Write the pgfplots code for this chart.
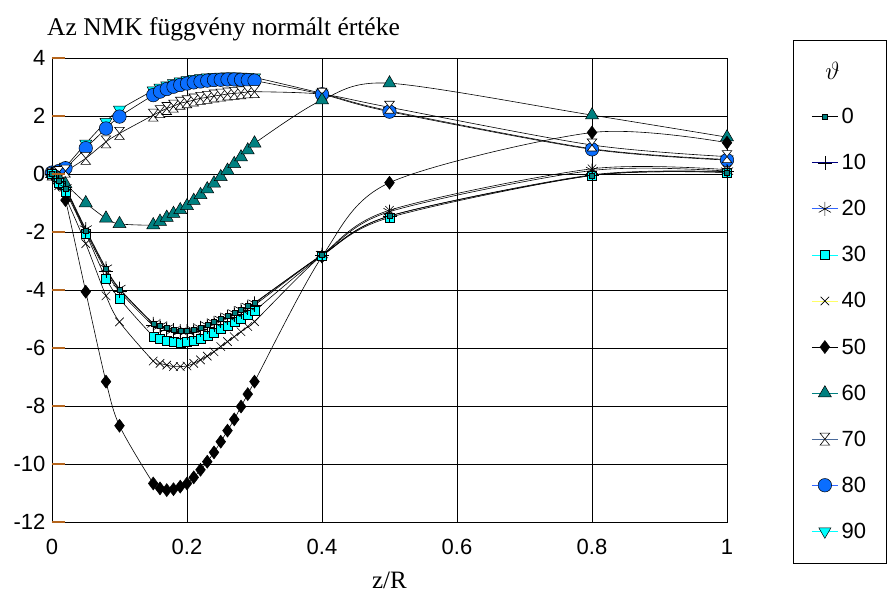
\documentclass[border=0pt]{standalone}
\usepackage{fontspec}
\setmainfont{Liberation Serif}
\setsansfont{Liberation Sans}
\usepackage{pgfplots}
\usepackage{pgfplotstable}
\pgfplotsset{compat=1.18}

\definecolor{tealx}{HTML}{008080}
\definecolor{cyanx}{HTML}{00FFFF}
\definecolor{bluec}{HTML}{0A6EFF}
\definecolor{tickbrown}{HTML}{B5651D}
\definecolor{navyx}{HTML}{000080}
\definecolor{bluel}{HTML}{3366FF}
\definecolor{yellowx}{HTML}{FFFF66}
\definecolor{slatex}{HTML}{4A6A9A}

\pgfdeclareplotmark{hourglass}{%
 \pgfpathmoveto{\pgfqpoint{-0.8\pgfplotmarksize}{\pgfplotmarksize}}%
 \pgfpathlineto{\pgfqpoint{0.8\pgfplotmarksize}{\pgfplotmarksize}}%
 \pgfpathlineto{\pgfqpoint{-0.8\pgfplotmarksize}{-\pgfplotmarksize}}%
 \pgfpathlineto{\pgfqpoint{0.8\pgfplotmarksize}{-\pgfplotmarksize}}%
 \pgfpathclose
 \pgfusepathqfillstroke}

\pgfplotstableread{
x s0 s10 s20 s30 s40 s50 s60 s70 s80 s90
0 0 0 0 0 0 0 0 0 0.05 0.05
0.01 -0.25 -0.25 -0.22 -0.3 -0.4 -0.35 -0.15 0.05 0.1 0.12
0.02 -0.5 -0.52 -0.48 -0.6 -0.8 -0.9 -0.35 0.1 0.2 0.25
0.05 -1.95 -2.0 -1.9 -2.05 -2.4 -4.06 -1.0 0.54 0.89 1.05
0.08 -3.28 -3.35 -3.25 -3.6 -4.2 -7.16 -1.53 1.11 1.57 1.8
0.1 -3.98 -4.05 -3.95 -4.3 -5.1 -8.68 -1.72 1.4 1.98 2.22
0.15 -5.15 -5.23 -5.17 -5.6 -6.45 -10.67 -1.76 2.03 2.72 2.88
0.16 -5.22 -5.3 -5.24 -5.68 -6.53 -10.84 -1.64 2.15 2.84 2.98
0.17 -5.3 -5.38 -5.32 -5.75 -6.59 -10.9 -1.5 2.26 2.93 3.06
0.18 -5.36 -5.44 -5.38 -5.8 -6.64 -10.87 -1.37 2.34 3.01 3.13
0.19 -5.4 -5.48 -5.42 -5.82 -6.64 -10.78 -1.24 2.44 3.07 3.19
0.2 -5.4 -5.48 -5.42 -5.8 -6.62 -10.67 -1.1 2.49 3.12 3.24
0.21 -5.36 -5.44 -5.38 -5.75 -6.53 -10.46 -0.92 2.55 3.16 3.28
0.22 -5.29 -5.37 -5.31 -5.68 -6.41 -10.2 -0.72 2.61 3.19 3.31
0.23 -5.2 -5.28 -5.22 -5.58 -6.28 -9.92 -0.52 2.64 3.22 3.33
0.24 -5.11 -5.19 -5.13 -5.47 -6.13 -9.6 -0.32 2.69 3.24 3.35
0.25 -5.0 -5.08 -5.02 -5.35 -5.95 -9.23 -0.1 2.72 3.25 3.36
0.26 -4.9 -4.98 -4.92 -5.23 -5.78 -8.85 0.12 2.76 3.26 3.37
0.27 -4.78 -4.86 -4.8 -5.1 -5.61 -8.46 0.35 2.78 3.26 3.37
0.28 -4.67 -4.75 -4.69 -4.98 -5.44 -8.02 0.58 2.8 3.25 3.36
0.29 -4.55 -4.63 -4.57 -4.85 -5.26 -7.59 0.82 2.83 3.24 3.35
0.3 -4.44 -4.52 -4.46 -4.72 -5.09 -7.16 1.06 2.84 3.22 3.33
0.4 -2.8 -2.8 -2.78 -2.82 -2.8 -2.85 2.55 2.75 2.75 2.78
0.5 -1.45 -1.45 -1.3 -1.5 -1.25 -0.3 3.13 2.3 2.15 2.18
0.8 -0.05 -0.03 0.12 -0.05 0.18 1.43 2.03 1.0 0.85 0.87
1 0.06 0.08 0.1 0.05 0.15 1.08 1.27 0.6 0.48 0.5
}\data

\begin{document}
\begin{tikzpicture}
\path[use as bounding box] (-52pt,-70pt) rectangle (839pt,522pt);
\begin{axis}[
  at={(0,0)}, anchor=south west,
  scale only axis, width=675pt, height=464pt,
  xmin=0, xmax=1, ymin=-12, ymax=4,
  xtick={0,0.2,0.4,0.6,0.8,1}, ytick={-12,-10,-8,-6,-4,-2,0,2,4},
  grid=major, grid style={black, line width=0.7pt},
  axis line style={black, line width=0.9pt},
  ytick style={draw=none},
  major tick length=13pt, tick align=inside,
  xtick style={draw=none},
  tick pos=left,
  tick label style={font=\sffamily\fontsize{22}{24}\selectfont},
  yticklabel style={xshift=-3pt},
  xticklabel style={yshift=-14pt},
  /pgf/number format/assume math mode=true,
  xlabel={z/R},
  xlabel style={font=\fontsize{25}{28}\selectfont, at={(axis description cs:0.5,-0.125)}, anchor=center},
  title={Az NMK függvény normált értéke},
  title style={font=\fontsize{25.5}{28}\selectfont, inner sep=0pt, at={(axis description cs:-0.0074,1.050)}, anchor=west},
  legend style={at={(axis description cs:1.0978,1.039)}, anchor=north west, draw=black, line width=0.9pt,
    font=\sffamily\fontsize{22}{24}\selectfont, row sep=25.2pt, inner xsep=18pt, inner ysep=22pt,
    nodes={inner sep=2pt}},
  legend cell align=left,
  legend image code/.code={\draw[mark repeat=2,mark phase=2,#1] plot coordinates {(0pt,0pt) (13pt,0pt) (26pt,0pt)};},
  after end axis/.code={
    \foreach \yy in {-12,-10,-8,-6,-4,-2,0,2,4}{
      \draw[tickbrown, line width=1.6pt] (axis cs:0,\yy) -- ++(13pt,0pt);
    }
  },
]
\addplot[black, line width=0.6pt, smooth, mark=triangle*, mark size=7pt, mark options={rotate=180, fill=cyanx, draw=black, line width=0.5pt, solid}, forget plot] table[x=x, y=s90] {\data};
\addplot[black, line width=0.6pt, smooth, mark=*, mark size=6.75pt, mark options={fill=bluec, draw=black, line width=0.5pt, solid}, forget plot] table[x=x, y=s80] {\data};
\addplot[black, line width=0.6pt, smooth, mark=hourglass, mark size=6pt, mark options={fill=white, draw=black, line width=0.6pt, solid}, forget plot] table[x=x, y=s70] {\data};
\addplot[black, line width=0.6pt, smooth, mark=triangle*, mark size=7.5pt, mark options={fill=tealx, draw=black, line width=0.5pt, solid}, forget plot] table[x=x, y=s60] {\data};
\addplot[black, line width=0.6pt, smooth, mark=diamond*, mark size=6.5pt, mark options={fill=black, draw=black, line width=0.5pt, solid}, forget plot] table[x=x, y=s50] {\data};
\addplot[black, line width=0.6pt, smooth, mark=x, mark size=6pt, mark options={draw=black, line width=0.6pt, solid}, forget plot] table[x=x, y=s40] {\data};
\addplot[black, line width=0.6pt, smooth, mark=square*, mark size=4.5pt, mark options={fill=cyanx, draw=black, line width=0.5pt, solid}, forget plot] table[x=x, y=s30] {\data};
\addplot[black, line width=0.6pt, smooth, mark=asterisk, mark size=7pt, mark options={draw=black, line width=0.6pt, solid}, forget plot] table[x=x, y=s20] {\data};
\addplot[black, line width=0.6pt, smooth, mark=+, mark size=7pt, mark options={draw=black, line width=0.6pt, solid}, forget plot] table[x=x, y=s10] {\data};
\addplot[black, line width=0.6pt, smooth, mark=square*, mark size=2.5pt, mark options={fill=tealx, draw=black, line width=0.5pt, solid}, forget plot] table[x=x, y=s0] {\data};

\addlegendimage{legend image code/.code={\node[font=\fontsize{24}{26}\selectfont, inner sep=0pt] at (13pt,0pt) {$\vartheta$};}}
\addlegendentry{}
\addlegendimage{draw=black, line width=0.8pt, mark=square*, mark size=2.5pt, mark options={fill=tealx, draw=black, line width=0.5pt}}
\addlegendentry{0}
\addlegendimage{draw=navyx, line width=0.8pt, mark=+, mark size=7pt, mark options={draw=black, line width=0.6pt}}
\addlegendentry{10}
\addlegendimage{draw=bluel, line width=0.8pt, mark=asterisk, mark size=7pt, mark options={draw=black, line width=0.6pt}}
\addlegendentry{20}
\addlegendimage{draw=cyanx, line width=0.8pt, mark=square*, mark size=4.5pt, mark options={fill=cyanx, draw=black, line width=0.5pt}}
\addlegendentry{30}
\addlegendimage{draw=yellowx, line width=0.8pt, mark=x, mark size=6pt, mark options={draw=black, line width=0.6pt}}
\addlegendentry{40}
\addlegendimage{draw=black, line width=0.8pt, mark=diamond*, mark size=6.5pt, mark options={fill=black, draw=black, line width=0.5pt}}
\addlegendentry{50}
\addlegendimage{draw=tealx, line width=0.8pt, mark=triangle*, mark size=7.5pt, mark options={fill=tealx, draw=black, line width=0.5pt}}
\addlegendentry{60}
\addlegendimage{draw=slatex, line width=0.8pt, mark=hourglass, mark size=6pt, mark options={fill=white, draw=black, line width=0.6pt}}
\addlegendentry{70}
\addlegendimage{draw=bluel, line width=0.8pt, mark=*, mark size=6.75pt, mark options={fill=bluec, draw=black, line width=0.5pt}}
\addlegendentry{80}
\addlegendimage{draw=cyanx, line width=0.8pt, mark=triangle*, mark size=7pt, mark options={rotate=180, fill=cyanx, draw=black, line width=0.5pt}}
\addlegendentry{90}
\end{axis}
\end{tikzpicture}
\end{document}
